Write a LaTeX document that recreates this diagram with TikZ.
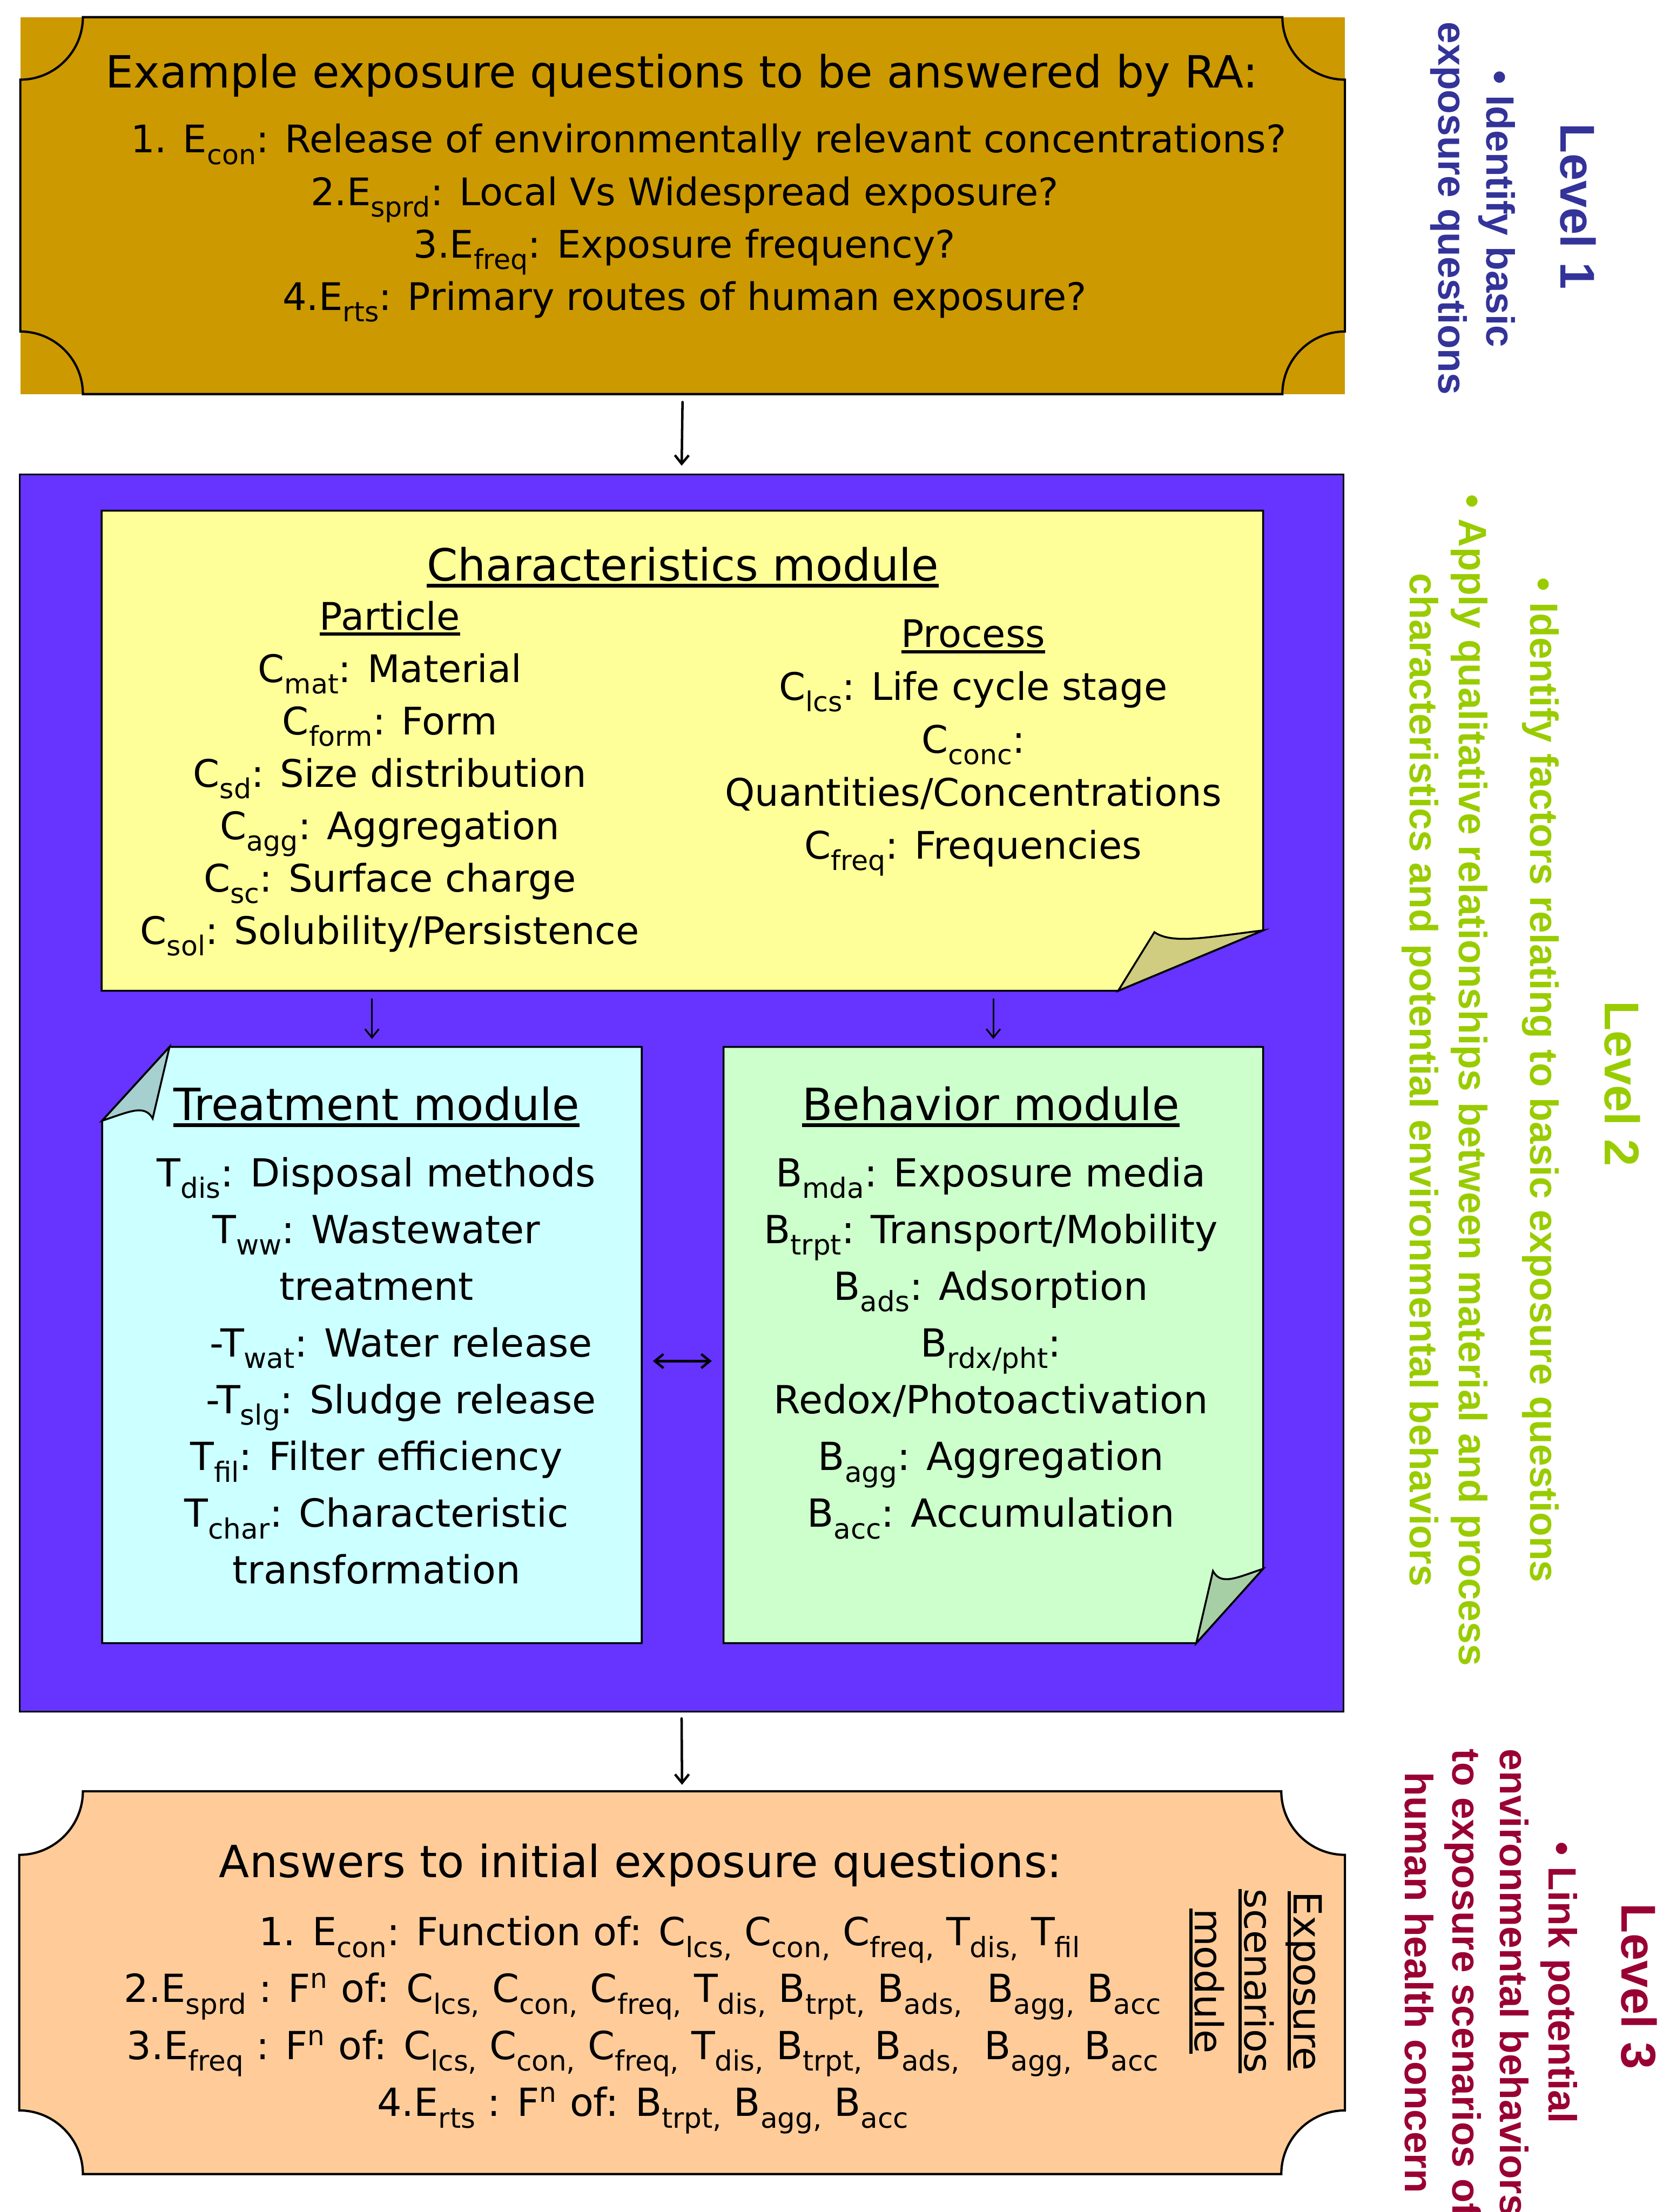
\documentclass[tikz,border=0pt]{standalone}
\usepackage{fontspec}
\setmainfont{DejaVu Sans}
\newfontfamily\lvlfont{Liberation Sans}
\usetikzlibrary{positioning,calc,arrows.meta}

\definecolor{gold}{HTML}{CC9900}
\definecolor{framecol}{HTML}{6633FF}
\definecolor{paper}{HTML}{FFFF99}
\definecolor{paperdk}{HTML}{D0CC80}
\definecolor{treatcol}{HTML}{CCFFFF}
\definecolor{treatdk}{HTML}{A6CFCF}
\definecolor{behavcol}{HTML}{CCFFCC}
\definecolor{behavdk}{HTML}{A6CFA6}
\definecolor{peach}{HTML}{FFCC99}
\definecolor{lvlone}{HTML}{333399}
\definecolor{lvltwo}{HTML}{99CC00}
\definecolor{lvlthree}{HTML}{990033}

% lowered subscripts and thick underlines
\newcommand{\subtxt}[1]{\raisebox{-0.3em}{\scalebox{0.72}{#1}}}
\newcommand{\uln}[1]{\setbox0\hbox{#1}\rlap{\rule[-0.15em]{\wd0}{0.08em}}\box0}

% box with hollow corners: node, radius, path options
\newcommand{\plaque}[3]{%
  \path[#3] ($(#1.north west)+(#2,0)$) -- ($(#1.north east)+(-#2,0)$)
    .. controls +(0,0.55*#2) and +(-0.55*#2,0) .. ($(#1.north east)+(0,#2)$)
    -- ($(#1.south east)+(0,-#2)$)
    .. controls +(-0.55*#2,0) and +(0,-0.55*#2) .. ($(#1.south east)+(-#2,0)$)
    -- ($(#1.south west)+(#2,0)$)
    .. controls +(0,-0.55*#2) and +(0.55*#2,0) .. ($(#1.south west)+(0,-#2)$)
    -- ($(#1.north west)+(0,#2)$)
    .. controls +(0.55*#2,0) and +(0,0.55*#2) .. ($(#1.north west)+(#2,0)$)
    -- cycle;
}
% note with curled corner, bottom right: node, dx, dy, paper, curl
\newcommand{\notebr}[5]{%
  \draw[notepath, fill=#4] (#1.north west) -- (#1.north east)
    -- ($(#1.south east)+(0,-#3)$) -- ($(#1.south east)+(-#2,0)$)
    -- (#1.south west) -- cycle;
  \draw[notepath, fill=#5] ($(#1.south east)+(-#2,0)$)
    -- ($(#1.south east)+(-0.75*#2,-0.97*#3)$)
    .. controls +(0.12*#2,0.2*#3) and +(-0.4*#2,0.12*#3) .. ($(#1.south east)+(0,-#3)$)
    -- cycle;
}
% same, curl at top left
\newcommand{\notetl}[5]{%
  \draw[notepath, fill=#4] ($(#1.north west)+(#2,0)$) -- (#1.north east)
    -- (#1.south east) -- (#1.south west)
    -- ($(#1.north west)+(0,#3)$) -- cycle;
  \draw[notepath, fill=#5] ($(#1.north west)+(#2,0)$)
    -- ($(#1.north west)+(0.75*#2,0.97*#3)$)
    .. controls +(-0.12*#2,-0.2*#3) and +(0.4*#2,-0.12*#3) .. ($(#1.north west)+(0,#3)$)
    -- cycle;
}

\begin{document}
\begin{tikzpicture}[x=1cm, y=-1cm, line width=0.8pt,
  >={Straight Barb[length=0.16cm, width=0.26cm]},
  area/.style={inner sep=0pt, outer sep=0pt},
  head/.style={font=\fontsize{23.6}{28}\selectfont},
  txt/.style={align=center, font=\fontsize{20.2}{27.9}\selectfont},
  txtwide/.style={align=center, font=\fontsize{20.6}{30.2}\selectfont},
  lvl/.style={rotate=-90, font=\lvlfont\bfseries\fontsize{26}{30}\selectfont},
  lvltxt/.style={rotate=-90, font=\lvlfont\bfseries\fontsize{21}{25}\selectfont},
  notepath/.style={draw, line width=1pt},
  link/.style={line width=1.3pt, line cap=round}]

\useasboundingbox (0,0) rectangle (31.09,41.37);
\clip (0,0) rectangle (31.09,41.37);

% level 1: questions
\node[area, fill=gold, minimum width=24.77cm, minimum height=7.05cm] (ques) at (12.765,3.845) {};
\plaque{ques}{1.17}{draw, line width=1.2pt}
\node[head, anchor=base] (questitle) at (12.75,1.64) {Example exposure questions to be answered by RA:};
% multi-line nodes sit on their last line
\node[txt, anchor=base] (queslist) at (12.80,5.80) {\hspace*{0.9cm}1. E\subtxt{con}: Release of environmentally relevant concentrations?\\
  2.E\subtxt{sprd}: Local Vs Widespread exposure?\\
  3.E\subtxt{freq}: Exposure frequency?\\
  4.E\subtxt{rts}: Primary routes of human exposure?};

% level 2: modules
\node[area, draw, fill=framecol, minimum width=24.75cm, minimum height=23.14cm] (frame) at (12.745,20.44) {};

\node[area, minimum width=21.72cm, minimum height=8.98cm] (chars) at (12.76,14.04) {};
\notebr{chars}{2.71}{1.13}{paper}{paperdk}
\node[head, anchor=base] (charstitle) at (12.77,10.86) {\uln{Characteristics module}};
\node[txt, anchor=base] (particle) at (7.29,17.66) {\uln{Particle}\\
  C\subtxt{mat}: Material\\
  C\subtxt{form}: Form\\
  C\subtxt{sd}: Size distribution\\
  C\subtxt{agg}: Aggregation\\
  C\subtxt{sc}: Surface charge\\
  C\subtxt{sol}: Solubility/Persistence};
\node[txt, anchor=base, font=\fontsize{20.2}{28.1}\selectfont] (process) at (18.20,16.06) {\uln{Process}\\
  C\subtxt{lcs}: Life cycle stage\\
  C\subtxt{conc}:\\
  Quantities/Concentrations\\
  C\subtxt{freq}: Frequencies};

\node[area, minimum width=10.09cm, minimum height=11.15cm] (treat) at (6.955,25.155) {};
\node[area, minimum width=10.09cm, minimum height=11.15cm, right=1.53cm of treat] (behav) {};
\notetl{treat}{1.26}{1.38}{treatcol}{treatdk}
\notebr{behav}{1.25}{1.39}{behavcol}{behavdk}

\node[head, anchor=base] (treattitle) at (7.04,20.95) {\uln{Treatment module}};
\node[txtwide, anchor=base] (treatlist) at (7.04,29.62) {T\subtxt{dis}: Disposal methods\\
  T\subtxt{ww}: Wastewater\\
  treatment\\
  \hspace*{0.92cm}-T\subtxt{wat}: Water release\\
  \hspace*{0.92cm}-T\subtxt{slg}: Sludge release\\
  T\subtxt{fil}: Filter efficiency\\
  T\subtxt{char}: Characteristic\\
  transformation};

\node[head, anchor=base] (behavtitle) at (18.53,20.95) {\uln{Behavior module}};
\node[txtwide, anchor=base] (behavlist) at (18.53,28.56) {B\subtxt{mda}: Exposure media\\
  B\subtxt{trpt}: Transport/Mobility\\
  B\subtxt{ads}: Adsorption\\
  B\subtxt{rdx/pht}:\\
  Redox/Photoactivation\\
  B\subtxt{agg}: Aggregation\\
  B\subtxt{acc}: Accumulation};

% level 3: answers
\node[area, minimum width=24.79cm, minimum height=7.16cm] (ans) at (12.755,37.08) {};
\plaque{ans}{1.19}{draw, fill=peach, line width=1.2pt}
\node[head, anchor=base] (anstitle) at (11.98,35.11) {Answers to initial exposure questions:};
\node[txtwide, anchor=base, font=\fontsize{20.6}{30.3}\selectfont] (anslist) at (12.02,39.58) {\hspace*{1cm}1. E\subtxt{con}: Function of: C\subtxt{lcs,} C\subtxt{con,} C\subtxt{freq,} T\subtxt{dis,} T\subtxt{fil}\\
  2.E\subtxt{sprd} : F\textsuperscript{n} of: C\subtxt{lcs,} C\subtxt{con,} C\subtxt{freq,} T\subtxt{dis,} B\subtxt{trpt,} B\subtxt{ads,} \ B\subtxt{agg,} B\subtxt{acc}\\
  3.E\subtxt{freq} : F\textsuperscript{n} of: C\subtxt{lcs,} C\subtxt{con,} C\subtxt{freq,} T\subtxt{dis,} B\subtxt{trpt,} B\subtxt{ads,} \ B\subtxt{agg,} B\subtxt{acc}\\
  4.E\subtxt{rts} : F\textsuperscript{n} of: B\subtxt{trpt,} B\subtxt{agg,} B\subtxt{acc}};
\node[rotate=-90, align=center, font=\fontsize{20.6}{26.2}\selectfont] (expmod) at (23.48,37.05) {\uln{Exposure}\\\uln{scenarios}\\\uln{module}};

% connectors
\draw[link, ->, shorten <=0.15cm, shorten >=0.16cm] (ques.south) -- (frame.north);
\draw[->, line width=0.9pt, shorten <=0.14cm, shorten >=0.15cm] (chars.south -| treat.north) -- (treat.north);
\draw[->, line width=0.9pt, shorten <=0.14cm, shorten >=0.15cm] (chars.south -| behav.north) -- (behav.north);
\draw[link, <->, shorten <=0.21cm, shorten >=0.22cm] ([yshift=-0.3cm]treat.east) -- ([yshift=-0.3cm]behav.west);
\draw[link, ->, shorten <=0.13cm, shorten >=0.12cm] (frame.south) -- (ans.north);

% level labels
\node[lvl, lvlone, anchor=base] (lvl1) at (29.18,3.86) {Level 1};
\node[lvltxt, lvlone, anchor=base] (lvl1a) at (27.80,3.91) {• Identify basic};
\node[lvltxt, lvlone, anchor=base] (lvl1b) at (26.90,3.90) {exposure questions};

\node[lvl, lvltwo, anchor=base] (lvl2) at (30.01,20.27) {Level 2};
\node[lvltxt, lvltwo, anchor=base] (lvl2a) at (28.62,20.20) {• Identify factors relating to basic exposure questions};
\node[lvltxt, lvltwo, anchor=base] (lvl2b) at (27.28,20.20) {• Apply qualitative relationships between material and process};
\node[lvltxt, lvltwo, anchor=base] (lvl2c) at (26.37,20.20) {characteristics and potential environmental behaviors};

\node[lvl, lvlthree, anchor=base] (lvl3) at (30.33,37.15) {Level 3};
\node[lvltxt, lvlthree, anchor=base] (lvl3a) at (28.96,37.08) {• Link potential};
\node[lvltxt, lvlthree, anchor=base] (lvl3b) at (28.05,37.08) {environmental behaviors};
\node[lvltxt, lvlthree, anchor=base] (lvl3c) at (27.16,37.08) {to exposure scenarios of};
\node[lvltxt, lvlthree, anchor=base] (lvl3d) at (26.27,37.08) {human health concern};
\end{tikzpicture}
\end{document}
